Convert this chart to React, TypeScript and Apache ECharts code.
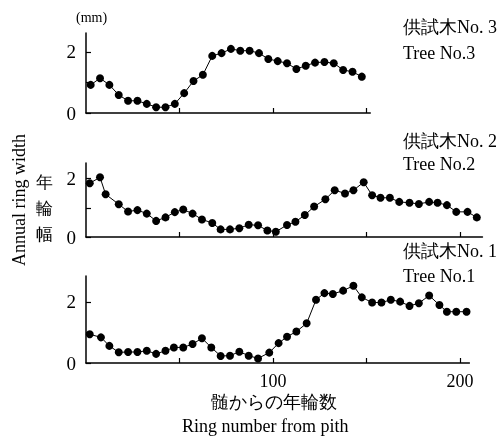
import React, { useEffect, useRef } from "react";
import * as echarts from "echarts";

// Tree No.3 (top panel)
const ringsTree3 = [2.5, 7.5, 12.5, 17.5, 22.5, 27.5, 32.5, 37.5, 42.5, 47.5, 52.5, 57.5, 62.5, 67.5, 72.5, 77.5, 82.5, 87.5, 92.5, 97.5, 102.5, 107.5, 112.5, 117.5, 122.5, 127.5, 132.5, 137.5, 142.5, 147.5];
const widthTree3 = [0.92, 1.14, 0.92, 0.59, 0.4, 0.4, 0.3, 0.19, 0.19, 0.3, 0.65, 1.05, 1.25, 1.87, 1.96, 2.1, 2.04, 2.04, 1.96, 1.77, 1.7, 1.63, 1.44, 1.55, 1.65, 1.67, 1.63, 1.41, 1.35, 1.19];

// Tree No.2 (middle panel)
const ringsTree2 = [2, 7.5, 10.5, 17.5, 22.5, 27.5, 32.5, 37.5, 42.5, 47.5, 52, 57, 62, 67.5, 72, 77, 82, 87, 92, 97, 101.5, 107.5, 112, 117, 122, 128, 133, 138.5, 143, 148.5, 153, 157.5, 162.5, 167.5, 173, 178, 183.5, 188, 193, 198, 204, 209];
const widthTree2 = [1.84, 2.04, 1.46, 1.12, 0.87, 0.92, 0.8, 0.55, 0.67, 0.85, 0.94, 0.8, 0.6, 0.48, 0.26, 0.26, 0.3, 0.42, 0.4, 0.22, 0.18, 0.41, 0.52, 0.75, 1.04, 1.29, 1.6, 1.49, 1.6, 1.87, 1.43, 1.34, 1.34, 1.2, 1.17, 1.13, 1.2, 1.17, 1.09, 0.86, 0.86, 0.67];

// Tree No.1 (bottom panel)
const ringsTree1 = [2, 8, 12.5, 17.5, 22.5, 27.5, 32.5, 37.5, 42.5, 47, 52, 57, 62, 67, 72, 77, 82, 87, 92, 98, 103, 107.5, 112.5, 118, 123, 127.5, 132, 137.5, 143, 147.5, 153, 158, 163, 168, 173, 178, 183.5, 189, 193, 198, 203.5];
const widthTree1 = [0.94, 0.84, 0.56, 0.35, 0.36, 0.36, 0.4, 0.3, 0.4, 0.51, 0.51, 0.62, 0.81, 0.51, 0.23, 0.24, 0.37, 0.24, 0.15, 0.34, 0.65, 0.86, 1.03, 1.3, 2.07, 2.29, 2.26, 2.37, 2.53, 2.15, 1.98, 1.98, 2.07, 2.01, 1.87, 1.96, 2.21, 1.9, 1.68, 1.68, 1.68];

const yTickValues = [0, 1, 2];
const yLabelValues = [0, 2];
const xTickValues = [50, 100, 150, 200];
const xLabelValues = [100, 200];

const SERIF = "Liberation Serif";
const PX_PER_RING = 1.87;
const LEFT = 86;

const panels = [
  { rings: ringsTree3, widths: widthTree3, top: 33, height: 80, xMax: 152, yMax: 2.62, showX: false, yName: "" },
  { rings: ringsTree2, widths: widthTree2, top: 163, height: 74, xMax: 212, yMax: 2.53, showX: false, yName: "Annual ring width" },
  { rings: ringsTree1, widths: widthTree1, top: 276, height: 87, xMax: 205, yMax: 2.85, showX: true, yName: "" },
];

function txt(text: string, size: number, x: number, y: number, extra: any = {}) {
  return {
    type: "text",
    x,
    y,
    ...extra,
    style: { text, fontSize: size, fontFamily: SERIF, fill: "#000", ...(extra.style || {}) },
  };
}

export default function App() {
  const ref = useRef<HTMLDivElement>(null);
  useEffect(() => {
    if (!ref.current) return;
    const chart = echarts.init(ref.current, null, { renderer: "svg" });
    const axisLine = { show: true, lineStyle: { color: "#000", width: 1.5 } };
    const option: any = {
      animation: false,
      grid: panels.map((p) => ({
        left: LEFT,
        top: p.top,
        width: p.xMax * PX_PER_RING,
        height: p.height,
      })),
      xAxis: panels.map((p, i) => ({
        type: "value",
        gridIndex: i,
        min: 0,
        max: p.xMax,
        axisLine,
        splitLine: { show: false },
        axisTick: {
          show: true,
          inside: true,
          customValues: xTickValues.filter((v) => v <= p.xMax),
          lineStyle: { color: "#000", width: 1.2 },
        },
        axisLabel: {
          show: p.showX,
          customValues: xLabelValues,
          color: "#000",
          fontFamily: SERIF,
          fontSize: 18,
          margin: 9,
        },
      })),
      yAxis: panels.map((p, i) => ({
        type: "value",
        gridIndex: i,
        min: 0,
        max: p.yMax,
        axisLine,
        splitLine: { show: false },
        name: p.yName,
        nameLocation: "middle",
        nameRotate: 90,
        nameGap: 58,
        nameTextStyle: { color: "#000", fontFamily: SERIF, fontSize: 18 },
        axisTick: {
          show: true,
          inside: true,
          customValues: yTickValues,
          lineStyle: { color: "#000", width: 1.2 },
        },
        axisLabel: {
          show: true,
          customValues: yLabelValues,
          color: "#000",
          fontFamily: SERIF,
          fontSize: 19,
          margin: 10,
        },
      })),
      series: panels.map((p, i) => ({
        type: "line",
        xAxisIndex: i,
        yAxisIndex: i,
        data: p.rings.map((r, j) => [r, p.widths[j]]),
        symbol: "circle",
        symbolSize: 8,
        lineStyle: { color: "#000", width: 1 },
        itemStyle: { color: "#000" },
      })),
      graphic: [
        txt("(mm)", 14, 76, 10),
        txt("供試木No. 3", 18, 403, 18),
        txt("Tree No.3", 18, 403, 44),
        txt("供試木No. 2", 18, 403, 132),
        txt("Tree No.2", 18, 403, 155),
        txt("供試木No. 1", 18, 403, 242),
        txt("Tree No.1", 18, 403, 267),
        txt("年\n輪\n幅", 17, 36, 169, { style: { lineHeight: 26 } }),
        txt("髄からの年輪数", 18, 211, 393),
        txt("Ring number from pith", 18, 182, 417),
      ],
    };
    chart.setOption(option);
    return () => chart.dispose();
  }, []);
  return (
    <div
      ref={ref}
      style={{ position: "fixed", left: 0, top: 0, width: 504, height: 445 }}
    />
  );
}
